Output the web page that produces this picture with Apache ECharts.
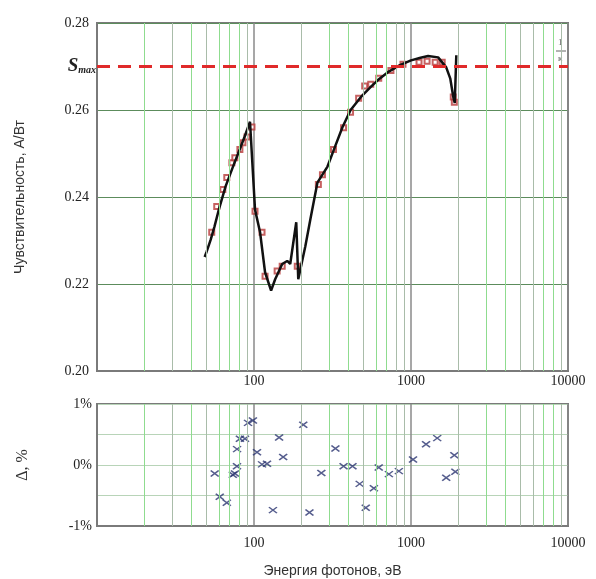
<!DOCTYPE html>
<html>
<head>
<meta charset="utf-8">
<script src="https://cdn.jsdelivr.net/npm/echarts@6/dist/echarts.min.js"></script>
<style>html,body{margin:0;padding:0;background:#fff}#c{width:596px;height:579px}</style>
</head>
<body>
<div id="c"></div>
<script>
// Black fitted curve: photon energy (eV) and sensitivity (A/W)
const curveEnergy = [48.5, 50, 53, 56, 60, 66, 73, 80, 87, 94.3, 101.5, 109.3, 117.6, 128.5, 136.4, 151.2, 162.7, 170.1, 185.8, 191.4, 212.3, 228.6, 253.4, 293.8, 330, 366.5, 412.4, 480, 554.3, 630, 712.5, 850, 1000, 1150, 1285, 1489, 1676, 1780, 1859, 1900, 1943];
const curveSens   = [0.2262, 0.2275, 0.2302, 0.2332, 0.2374, 0.2425, 0.2467, 0.2504, 0.2538, 0.2573, 0.2371, 0.2319, 0.2227, 0.2185, 0.2211, 0.2246, 0.2253, 0.2246, 0.2342, 0.2211, 0.2287, 0.2349, 0.2433, 0.2470, 0.2518, 0.2561, 0.2600, 0.2630, 0.2653, 0.2672, 0.2687, 0.2703, 0.2714, 0.2720, 0.2724, 0.2721, 0.2698, 0.2672, 0.2630, 0.2616, 0.2726];
// Measured points (red squares)
const ptsEnergy = [53.8, 57.9, 63.3, 67.1, 72.3, 75.5, 81.3, 85.0, 90.2, 97.1, 101.5, 112.5, 117.6, 140.4, 151.2, 188.6, 257, 272.9, 320.9, 372, 412, 464, 507, 554, 623, 745, 889, 1125, 1266, 1425, 1580, 1859, 1888];
const ptsSens   = [0.2319, 0.2378, 0.2417, 0.2445, 0.2479, 0.2490, 0.2509, 0.2525, 0.2538, 0.2561, 0.2367, 0.2319, 0.2218, 0.2230, 0.2241, 0.2241, 0.2429, 0.2451, 0.2509, 0.2559, 0.2595, 0.2627, 0.2655, 0.2659, 0.2673, 0.2691, 0.2705, 0.2710, 0.2712, 0.2710, 0.2710, 0.2630, 0.2618];
// Deviations (blue crosses), %
const devEnergy = [56.2, 60.5, 67.1, 73.3, 75.6, 77.9, 78, 81.3, 87.6, 91.6, 98.4, 104.5, 112.5, 121, 132, 144.5, 153.4, 206, 225.5, 268.5, 330, 372, 424, 471, 515, 580, 623, 723, 837, 1030, 1247, 1469, 1676, 1888, 1916];
const devPct    = [-0.14, -0.52, -0.62, -0.16, -0.14, -0.02, 0.26, 0.43, 0.43, 0.69, 0.73, 0.21, 0.01, 0.02, -0.74, 0.45, 0.13, 0.66, -0.78, -0.13, 0.27, -0.02, -0.02, -0.31, -0.70, -0.38, -0.04, -0.15, -0.10, 0.09, 0.34, 0.44, -0.21, 0.16, -0.11];
const sMax = 0.2735;
const xTickLabels = ['100', '1000', '10000'];
const yTopTicks = [0.20, 0.22, 0.24, 0.26, 0.28];
const yBottomLabels = ['-1%', '0%', '1%'];
const minorGreen = [20, 40, 60, 70, 80, 300, 400, 600, 700, 3000, 4000, 7000, 8000];
const minorGray  = [30, 50, 90, 200, 500, 800, 900, 2000, 5000, 6000, 9000];

const zip = (a, b) => a.map((v, i) => [v, b[i]]);
const serif = 'Liberation Serif';
const sans = 'Liberation Sans';

function minorLines() {
  return minorGreen.map(v => ({xAxis: v, lineStyle: {color: '#8fdc8f', width: 1, type: 'solid'}}))
    .concat(minorGray.map(v => ({xAxis: v, lineStyle: {color: '#a9bca9', width: 1, type: 'solid'}})));
}

const xCommon = {
  type: 'log', min: 10, max: 10000, logBase: 10,
  axisLine: {show: true, onZero: false, lineStyle: {color: '#7a7a7a', width: 2}},
  axisTick: {show: false},
  splitLine: {show: true, lineStyle: {color: '#8a8a8a', width: 1.5}},
  axisLabel: {fontFamily: serif, fontSize: 14, color: '#222',
    formatter: v => xTickLabels.indexOf(String(Math.round(v))) >= 0 ? String(Math.round(v)) : ''}
};

const chart = echarts.init(document.getElementById('c'));
chart.setOption({
  animation: false,
  grid: [
    {left: 97, top: 23, width: 471, height: 348, show: true, borderColor: '#7a7a7a', borderWidth: 2},
    {left: 97, top: 404, width: 471, height: 122, show: true, borderColor: '#7a7a7a', borderWidth: 2}
  ],
  xAxis: [
    Object.assign({}, xCommon, {gridIndex: 0, axisLabel: Object.assign({}, xCommon.axisLabel, {margin: 3})}),
    Object.assign({}, xCommon, {gridIndex: 1, axisLabel: Object.assign({}, xCommon.axisLabel, {margin: 10}),
      name: 'Энергия фотонов, эВ', nameLocation: 'middle', nameGap: 38,
      nameTextStyle: {fontFamily: sans, fontSize: 14, color: '#333'}})
  ],
  yAxis: [
    {gridIndex: 0, type: 'value', min: yTopTicks[0], max: yTopTicks[yTopTicks.length - 1], interval: 0.02,
      axisLine: {show: true, onZero: false, lineStyle: {color: '#7a7a7a', width: 2}}, axisTick: {show: false},
      splitLine: {lineStyle: {color: '#5c8c5c', width: 1}},
      axisLabel: {fontFamily: serif, fontSize: 14, color: '#222', margin: 8, formatter: v => v.toFixed(2)},
      name: 'Чувствительность, А/Вт', nameLocation: 'middle', nameGap: 70,
      nameTextStyle: {fontFamily: sans, fontSize: 14, color: '#333'}},
    {gridIndex: 1, type: 'value', min: -1, max: 1, interval: 0.5,
      axisLine: {show: true, onZero: false, lineStyle: {color: '#7a7a7a', width: 2}}, axisTick: {show: false},
      splitLine: {lineStyle: {color: '#b8d4b8', width: 1}},
      axisLabel: {fontFamily: serif, fontSize: 14, color: '#222', margin: 5,
        formatter: v => Math.abs(v - Math.round(v)) < 1e-6 ? yBottomLabels[Math.round(v) + 1] : ''},
      name: 'Δ, %', nameLocation: 'middle', nameGap: 66,
      nameTextStyle: {fontFamily: serif, fontSize: 16, color: '#333'}}
  ],
  series: [
    {type: 'line', xAxisIndex: 0, yAxisIndex: 0, data: [], z: 1, silent: true,
      markLine: {silent: true, symbol: 'none', label: {show: false}, animation: false, data: minorLines()}},
    {type: 'line', xAxisIndex: 1, yAxisIndex: 1, data: [], z: 1, silent: true,
      markLine: {silent: true, symbol: 'none', label: {show: false}, animation: false, data: minorLines()}},
    {type: 'scatter', xAxisIndex: 0, yAxisIndex: 0, data: zip(ptsEnergy, ptsSens), z: 3,
      symbol: 'emptyRect', symbolSize: 5,
      itemStyle: {color: '#b83a3a', borderWidth: 1}},
    {type: 'line', xAxisIndex: 0, yAxisIndex: 0, data: zip(curveEnergy, curveSens), z: 4,
      symbol: 'none', lineStyle: {color: '#111', width: 2.5},
      markLine: {silent: true, symbol: 'none', animation: false,
        lineStyle: {color: '#e02a2a', width: 3, type: [13, 8]},
        label: {show: true, position: 'start', distance: 1,
          formatter: '{s|S}{m|max}',
          rich: {s: {fontFamily: serif, fontStyle: 'italic', fontWeight: 'bold', fontSize: 19, color: '#222'},
                 m: {fontFamily: serif, fontStyle: 'italic', fontWeight: 'bold', fontSize: 10, color: '#222', padding: [8, 0, 0, 0]}}},
        data: [{yAxis: sMax}]}},
    {type: 'scatter', xAxisIndex: 1, yAxisIndex: 1, data: zip(devEnergy, devPct), z: 3,
      symbol: 'path://M0,0L10,7M10,0L0,7', symbolSize: [8, 6],
      itemStyle: {color: 'none', borderColor: '#2a3570', borderWidth: 1.5}}
  ],
  graphic: [
    {type: 'text', left: 558, top: 38, style: {text: '1', fontFamily: serif, fontSize: 9, fill: '#666'}},
    {type: 'line', shape: {x1: 556, y1: 51, x2: 566, y2: 51}, style: {stroke: '#666', lineWidth: 1}},
    {type: 'text', left: 558, top: 54, style: {text: 'к', fontFamily: serif, fontSize: 9, fill: '#666'}}
  ]
});
</script>
</body>
</html>
